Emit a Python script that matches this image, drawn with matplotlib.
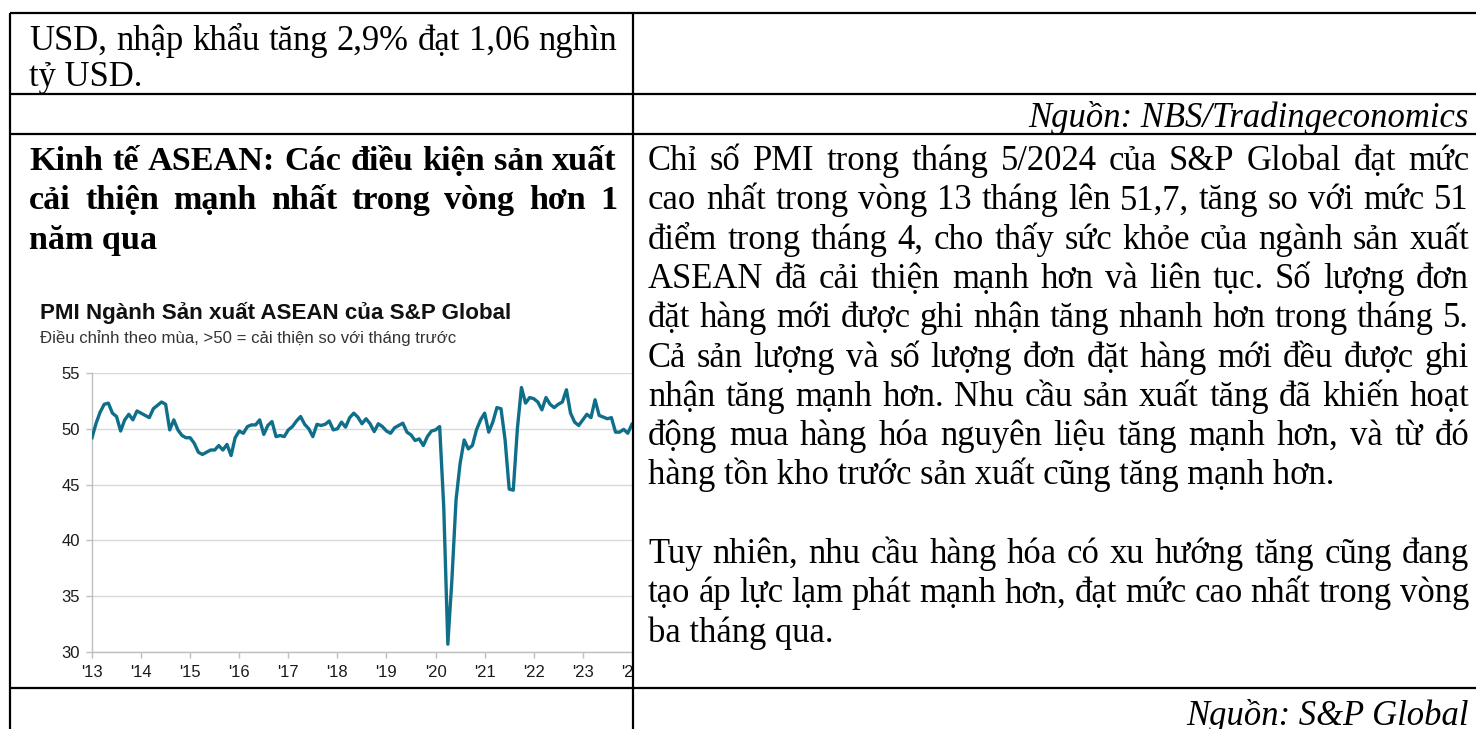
import matplotlib
matplotlib.use("Agg")
import matplotlib.pyplot as plt
from matplotlib.patches import Rectangle

# ---------------- data ----------------
year_labels = ["'13", "'14", "'15", "'16", "'17", "'18", "'19", "'20", "'21", "'22", "'23", "'24"]
pmi_2013 = [49.2, 50.5, 51.5, 52.2, 52.3, 51.4, 51.1, 49.8, 50.8, 51.3, 50.8, 51.6]
pmi_2014 = [51.4, 51.2, 51.0, 51.8, 52.1, 52.4, 52.2, 49.9, 50.8, 49.9, 49.4, 49.2]
pmi_2015 = [49.2, 48.7, 47.9, 47.7, 47.9, 48.1, 48.1, 48.5, 48.1, 48.6, 47.6, 49.2]
pmi_2016 = [49.8, 49.6, 50.2, 50.35, 50.35, 50.8, 49.5, 50.3, 50.65, 49.3, 49.4, 49.3]
pmi_2017 = [49.9, 50.2, 50.7, 51.1, 50.4, 50.0, 49.3, 50.4, 50.3, 50.4, 50.7, 49.9]
pmi_2018 = [50.0, 50.6, 50.15, 51.0, 51.4, 51.05, 50.45, 50.9, 50.45, 49.75, 50.45, 50.2]
pmi_2019 = [49.8, 49.6, 50.1, 50.3, 50.5, 49.7, 49.45, 48.95, 49.1, 48.5, 49.3, 49.8]
pmi_2020 = [49.9, 50.2, 43.0, 30.7, 36.5, 43.6, 46.9, 49.0, 48.2, 48.5, 49.9, 50.8]
pmi_2021 = [51.4, 49.7, 50.6, 51.9, 51.8, 49.0, 44.6, 44.5, 50.0, 53.7, 52.3, 52.8]
pmi_2022 = [52.7, 52.4, 51.7, 52.8, 52.2, 51.9, 52.2, 52.4, 53.5, 51.4, 50.6, 50.3]
pmi_2023 = [50.8, 51.3, 51.0, 52.6, 51.2, 51.05, 50.9, 51.0, 49.7, 49.7, 49.95, 49.6]
pmi_2024 = [50.4]

chart_title = "PMI Ngành Sản xuất ASEAN của S&P Global"
chart_subtitle = "Điều chỉnh theo mùa, >50 = cải thiện so với tháng trước"

row1_lines = ["USD, nhập khẩu tăng 2,9% đạt 1,06 nghìn", "tỷ USD."]
source1 = "Nguồn: NBS/Tradingeconomics"
heading_lines = ["Kinh tế ASEAN: Các điều kiện sản xuất",
                 "cải thiện mạnh nhất trong vòng hơn 1",
                 "năm qua"]
body_lines = [
    "Chỉ số PMI trong tháng 5/2024 của S&P Global đạt mức",
    "cao nhất trong vòng 13 tháng lên 51,7, tăng so với mức 51",
    "điểm trong tháng 4, cho thấy sức khỏe của ngành sản xuất",
    "ASEAN đã cải thiện mạnh hơn và liên tục. Số lượng đơn",
    "đặt hàng mới được ghi nhận tăng nhanh hơn trong tháng 5.",
    "Cả sản lượng và số lượng đơn đặt hàng mới đều được ghi",
    "nhận tăng mạnh hơn. Nhu cầu sản xuất tăng đã khiến hoạt",
    "động mua hàng hóa nguyên liệu tăng mạnh hơn, và từ đó",
    "hàng tồn kho trước sản xuất cũng tăng mạnh hơn.",
    "",
    "Tuy nhiên, nhu cầu hàng hóa có xu hướng tăng cũng đang",
    "tạo áp lực lạm phát mạnh hơn, đạt mức cao nhất trong vòng",
    "ba tháng qua.",
]
body_last_lines = {8, 12}
source2 = "Nguồn: S&P Global"

# ---------------- figure ----------------
W, H = 1476, 729
fig = plt.figure(figsize=(W / 100, H / 100), dpi=100)
fig.patch.set_facecolor("white")
renderer = fig.canvas.get_renderer()

SERIF = ["Liberation Serif", "DejaVu Serif"]
SANS = ["Liberation Sans", "DejaVu Sans"]

# ---- chart axes (pixel layout) ----
month_px = 4.09
ax_left, ax_right, y30, y55 = 92, 700, 652, 373
ax = fig.add_axes([ax_left / W, 1 - y30 / H, (ax_right - ax_left) / W, (y30 - y55) / H])
ax.set_zorder(1)
values = (pmi_2013 + pmi_2014 + pmi_2015 + pmi_2016 + pmi_2017 + pmi_2018 +
          pmi_2019 + pmi_2020 + pmi_2021 + pmi_2022 + pmi_2023 + pmi_2024)
months = list(range(len(values)))
ax.plot(months, values, color="#0f6f8a", lw=2.4, solid_joinstyle="round", zorder=3)
ax.set_xlim(0, (ax_right - ax_left) / month_px)
ax.set_ylim(30, 55)
ax.set_yticks([30, 35, 40, 45, 50, 55])
ax.set_xticks([12 * i for i in range(len(year_labels))])
ax.set_xticklabels(year_labels)
for s in ["top", "right"]:
    ax.spines[s].set_visible(False)
for s in ["left", "bottom"]:
    ax.spines[s].set_color("#bfbfbf")
    ax.spines[s].set_linewidth(1.0)
ax.grid(axis="y", color="#d9d9d9", lw=1.0)
ax.set_axisbelow(True)
ax.tick_params(axis="both", colors="#bfbfbf", labelcolor="#1a1a1a", length=4.5, width=1.0, labelsize=12)
ax.tick_params(axis="y", pad=4)
ax.tick_params(axis="x", pad=5)
for lab in ax.get_xticklabels() + ax.get_yticklabels():
    lab.set_family(SANS)

# ---- page overlay axes in pixel coordinates ----
page = fig.add_axes([0, 0, 1, 1])
page.set_zorder(5)
page.set_xlim(0, W)
page.set_ylim(H, 0)
page.axis("off")

# cover the chart to the right of the column border
page.add_patch(Rectangle((634, 280), 200, 420, facecolor="white", edgecolor="none", zorder=1))


def measure(s, size, **kw):
    t = page.text(0, 0, s, fontsize=size, **kw)
    w = t.get_window_extent(renderer).width
    t.remove()
    return w


def fit_size(s, width, **kw):
    return 20 * width / measure(s, 20, **kw)


def justify(line, x0, x1, y, size, **kw):
    words = line.split(" ")
    widths = [measure(w, size, **kw) for w in words]
    gap = (x1 - x0 - sum(widths)) / (len(words) - 1)
    x = x0
    for w, wd in zip(words, widths):
        page.text(x, y, w, fontsize=size, ha="left", va="baseline", zorder=3, **kw)
        x += wd + gap


serif_kw = dict(family=SERIF, color="black")
body_size = fit_size(body_lines[8], 686, **serif_kw)
bold_kw = dict(family=SERIF, color="black", weight="bold")
bold_size = fit_size(heading_lines[2], 128, **bold_kw)
ital_kw = dict(family=SERIF, color="black", style="italic")

# row 1 (left)
justify(row1_lines[0], 29, 617, 50, body_size, **serif_kw)
page.text(29, 86, row1_lines[1], fontsize=body_size, ha="left", va="baseline", zorder=3, **serif_kw)
# source 1 (right)
page.text(1469, 127, source1, fontsize=body_size, ha="right", va="baseline", zorder=3, **ital_kw)
# heading (left)
for i, ln in enumerate(heading_lines):
    yb = 170 + i * 39.3
    if i < len(heading_lines) - 1:
        justify(ln, 29, 617, yb, bold_size, **bold_kw)
    else:
        page.text(29, yb, ln, fontsize=bold_size, ha="left", va="baseline", zorder=3, **bold_kw)
# body (right)
for i, ln in enumerate(body_lines):
    if not ln:
        continue
    yb = 170 + i * 39.3
    if i in body_last_lines:
        page.text(648, yb, ln, fontsize=body_size, ha="left", va="baseline", zorder=3, **serif_kw)
    else:
        justify(ln, 648, 1469, yb, body_size, **serif_kw)
page.text(1469, 725, source2, fontsize=body_size, ha="right", va="baseline", zorder=3, **ital_kw)

# chart title / subtitle
title_kw = dict(family=SANS, weight="bold", color="#111111")
page.text(40, 313, chart_title, fontsize=fit_size(chart_title, 471, **title_kw),
          ha="left", va="center", zorder=3, **title_kw)
sub_kw = dict(family=SANS, color="#333333")
page.text(40, 338, chart_subtitle, fontsize=fit_size(chart_subtitle, 416, **sub_kw),
          ha="left", va="center", zorder=3, **sub_kw)

# table borders
lw = 1.6
for yy in [13, 94, 134, 688]:
    page.plot([10, W], [yy, yy], color="black", lw=lw, zorder=4, solid_capstyle="butt")
for xx in [10, 633]:
    page.plot([xx, xx], [13, H], color="black", lw=lw, zorder=4, solid_capstyle="butt")

fig.savefig("out.png", dpi=100, facecolor="white")
